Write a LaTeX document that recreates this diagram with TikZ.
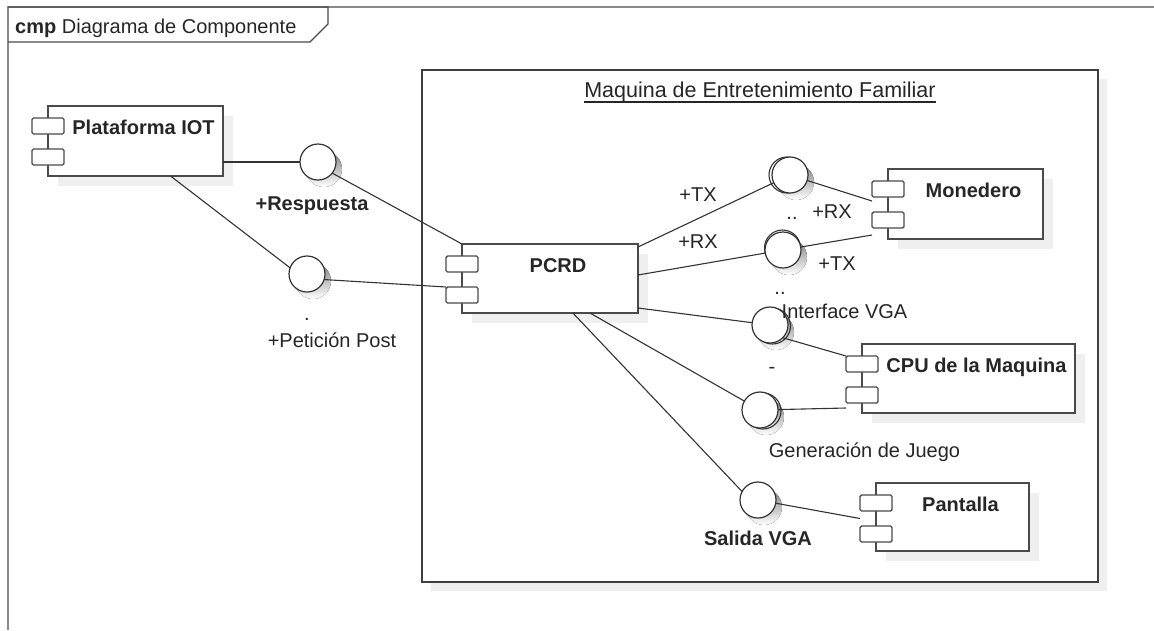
\documentclass[tikz,border=0pt]{standalone}
\usepackage{fontspec}
\setmainfont{Liberation Sans}
\usetikzlibrary{calc,shadows}

\definecolor{ink}{HTML}{262626}
\definecolor{edge}{HTML}{4A4A4A}
\definecolor{wire}{HTML}{333333}
\definecolor{frameline}{HTML}{8A8A8A}
\definecolor{shade}{HTML}{EFEFEF}

\tikzset{
  compbox/.style={draw=edge, line width=1.4pt, fill=white, inner sep=0pt, outer sep=0pt,
    drop shadow={shadow xshift=10pt, shadow yshift=-10pt, fill=shade, opacity=1}},
  portbox/.style={draw=edge, line width=1.4pt, fill=white, rounded corners=1.5pt,
    minimum width=32pt, minimum height=16pt, inner sep=0pt, outer sep=0pt},
  packbox/.style={draw=edge!85!black, line width=2pt, fill=white, inner sep=0pt, outer sep=0pt,
    drop shadow={shadow xshift=9pt, shadow yshift=-9pt, fill=shade, opacity=1}},
  iface/.style={circle, draw=wire, line width=1.2pt, fill=white, minimum size=36pt,
    inner sep=0pt, outer sep=0pt},
  socket/.style={circle, draw=wire, line width=1.1pt, minimum size=36pt, inner sep=0pt},
  wireline/.style={draw=wire, line width=1.1pt},
  txt/.style={text=ink, font=\fontsize{20}{24}\selectfont, inner sep=0pt, anchor=base},
  btxt/.style={txt, font=\fontsize{20}{24}\selectfont\bfseries},
}

% component box with its two port tabs and its name
\newcommand\umlcomp[6]{%
  \node[compbox, minimum width={(#4)-(#2)}, minimum height={(#5)-(#3)}]
    (#1) at ({((#2)+(#4))/2},{((#3)+(#5))/2}) {};
  \node[portbox] (#1-p1) at (#2,{(#3)+20}) {};
  \node[portbox] (#1-p2) at (#2,{(#3)+51}) {};
  \node[btxt] (#1-name) at ({((#2)+16+(#4))/2},{(#3)+28}) {#6};
}

\begin{document}
\begin{tikzpicture}[x=1pt,y=-1pt]
\useasboundingbox (0,0) rectangle (1154,630);

% diagram frame and its tag
\draw[frameline, line width=2.2pt] (1154,7) -- (8,7) -- (8,630);
\draw[edge, line width=1.4pt] (8,7) -- (328,7) -- (328,24) -- (310,42) -- (8,42);
\node[txt, anchor=base west] (tag) at (15,33) {\textbf{cmp} Diagrama de Componente};

% subsystem
\node[packbox, minimum width=676pt, minimum height=512pt] (mach) at (760,326) {};
\node[txt, font=\fontsize{21.5}{25}\selectfont] (title) at (760,97) {Maquina de Entretenimiento Familiar};
\draw[ink, line width=1.2pt] ($(title.base west)+(0,5)$) -- ($(title.base east)+(0,5)$);

% components
\umlcomp{plat}{48}{106}{223}{176}{Plataforma IOT}
\umlcomp{pcrd}{462}{244}{638}{313}{PCRD}
\umlcomp{mon}{888}{169}{1043}{239}{Monedero}
\umlcomp{cpu}{862}{344}{1075}{413}{CPU de la Maquina}
\umlcomp{pan}{876}{483}{1029}{551}{Pantalla}

% interface shadows
\foreach \cx/\cy in {318/162, 307/274, 790/175, 783/250, 770/325, 760/410, 758/500}
  \fill[shade] (\cx+6,\cy+7) circle[radius=18pt];

% sockets behind the lollipops
\node[socket] (tx-s) at (787,175) {};
\node[socket] (rx-s) at (782.5,248) {};
\node[socket] (ivga-s) at (772.5,326) {};
\node[socket] (gen-s) at (763,411) {};

% interfaces
\node[iface] (resp) at (318,162) {};
\node[iface] (pet) at (307,274) {};
\node[iface] (tx) at (790,175) {};
\node[iface] (rx) at (783,250) {};
\node[iface] (ivga) at (770,325) {};
\node[iface] (gen) at (760,410) {};
\node[iface] (sal) at (758,500) {};

% connectors
\draw[wireline] (plat.east |- resp.west) -- (resp.west);
\draw[wireline] ($(plat.south west)!0.7!(plat.south east)$) -- (pet.160);
\draw[wireline] (resp.-38) -- (pcrd.north west);
\draw[wireline] (pet.-18) -- (pcrd-p2.north west);
\draw[wireline] ($(pcrd.north east)+(0,3)$) -- (tx);
\draw[wireline] (tx) -- ($(mon-p1.south west)+(0,4)$);
\draw[wireline] ($(pcrd.north east)+(0,31)$) -- (rx);
\draw[wireline] (rx) -- ($(mon-p2.south west)+(0,7)$);
\draw[wireline] ($(pcrd.north east)+(0,64)$) -- (ivga);
\draw[wireline] (ivga.-45) -- (cpu-p1.north west);
\draw[wireline] ($(pcrd.south west)!0.727!(pcrd.south east)$) -- (gen);
\draw[wireline] (gen) -- ($(cpu-p2.south west)+(0,5)$);
\draw[wireline] ($(pcrd.south west)!0.63!(pcrd.south east)$) -- (sal.152);
\draw[wireline] (sal) -- ($(pan-p1.south west)!0.5!(pan-p2.north west)$);

% labels
\node[btxt] (l-resp) at (312,210) {+Respuesta};
\node[txt] (l-petdot) at (307,320) {.};
\node[txt] (l-pet) at (332,347) {+Petición Post};
\node[txt] (l-tx1) at (698,201) {+TX};
\node[txt] (l-rx1) at (832,218) {+RX};
\node[txt] (l-dd1) at (792,219) {..};
\node[txt] (l-rx2) at (698,248) {+RX};
\node[txt] (l-tx2) at (837,270) {+TX};
\node[txt] (l-dd2) at (780,294) {..};
\node[txt] (l-ivga) at (844.5,318) {Interface VGA};
\node[txt] (l-dash) at (772,373) {-};
\node[txt] (l-gen) at (864.5,457) {Generación de Juego};
\node[btxt] (l-sal) at (758,545) {Salida VGA};
\end{tikzpicture}
\end{document}
